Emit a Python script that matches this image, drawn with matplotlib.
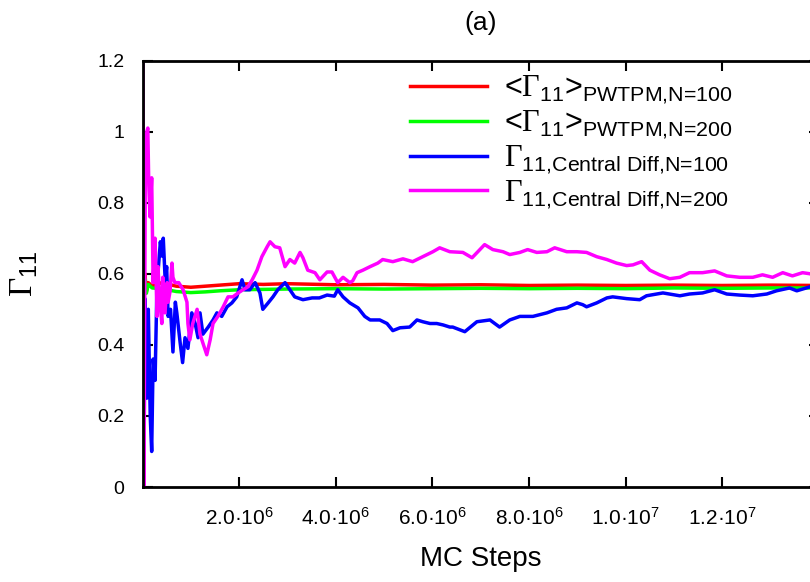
import numpy as np
import matplotlib
matplotlib.use("Agg")
from matplotlib import pyplot as plt

plt.rcParams['font.family'] = ['Liberation Sans', 'DejaVu Sans']
plt.rcParams['mathtext.fontset'] = 'custom'
plt.rcParams['mathtext.rm'] = 'Liberation Sans'
plt.rcParams['mathtext.sf'] = 'Liberation Sans'
plt.rcParams['mathtext.it'] = 'Liberation Sans:italic'
# serif Gamma as in the original (symbol font), taken from the "bf" slot
plt.rcParams['mathtext.bf'] = 'Liberation Serif'

# MC steps in units of 1e6
red_x = [0.02, 0.05, 0.08, 0.12, 0.2, 0.4, 0.7, 1.0, 1.3, 1.6, 2.0, 2.5, 3.0,
         4.0, 5.0, 6.0, 7.0, 8.0, 9.0, 10.0, 11.0, 12.0, 13.0, 14.0]
red_y = [0.54, 0.60, 0.55, 0.575, 0.565, 0.575, 0.565, 0.562, 0.565, 0.568, 0.572, 0.57, 0.572,
         0.569, 0.57, 0.568, 0.569, 0.567, 0.568, 0.567, 0.568, 0.567, 0.568, 0.567]

green_x = [0.02, 0.05, 0.08, 0.12, 0.2, 0.4, 0.7, 1.0, 1.3, 1.6, 2.0, 2.5, 3.0,
           4.0, 5.0, 6.0, 7.0, 8.0, 9.0, 10.0, 11.0, 12.0, 13.0, 14.0]
green_y = [0.56, 0.585, 0.545, 0.57, 0.56, 0.558, 0.55, 0.547, 0.549, 0.552, 0.555, 0.556, 0.557,
           0.558, 0.557, 0.558, 0.559, 0.558, 0.559, 0.558, 0.56, 0.559, 0.56, 0.56]

blue_x = [0.03, 0.05, 0.09, 0.12, 0.16, 0.19, 0.22, 0.26, 0.30, 0.33, 0.37, 0.40, 0.43, 0.47,
          0.50, 0.53, 0.58, 0.63, 0.68, 0.71, 0.78, 0.83, 0.88, 0.94, 1.02, 1.09, 1.15, 1.19,
          1.25, 1.36, 1.46, 1.54, 1.64, 1.75, 1.85, 1.95, 2.06, 2.12, 2.22, 2.33, 2.43, 2.49,
          2.60, 2.70, 2.80, 2.95, 3.05, 3.15, 3.32, 3.51, 3.66, 3.82, 3.97, 4.04, 4.15, 4.29,
          4.46, 4.60, 4.71, 4.85, 4.91, 5.06, 5.18, 5.33, 5.53, 5.68, 5.80, 5.95, 6.09, 6.22,
          6.36, 6.42, 6.67, 6.92, 7.19, 7.39, 7.60, 7.81, 8.08, 8.37, 8.57, 8.78, 8.99, 9.11,
          9.19, 9.40, 9.61, 9.73, 10.02, 10.29, 10.43, 10.77, 11.12, 11.32, 11.59, 11.84,
          12.09, 12.36, 12.63, 12.92, 13.12, 13.39, 13.54, 13.81, 14.0]
blue_y = [0.00, 0.53, 0.25, 0.50, 0.20, 0.10, 0.36, 0.30, 0.57, 0.62, 0.69, 0.65, 0.70, 0.58,
          0.62, 0.48, 0.50, 0.38, 0.52, 0.49, 0.405, 0.35, 0.42, 0.39, 0.49, 0.46, 0.42, 0.49,
          0.43, 0.45, 0.47, 0.49, 0.48, 0.507, 0.518, 0.535, 0.583, 0.555, 0.555, 0.575, 0.546, 0.50,
          0.518, 0.535, 0.555, 0.575, 0.555, 0.535, 0.527, 0.532, 0.532, 0.54, 0.537, 0.555, 0.535, 0.518,
          0.504, 0.48, 0.47, 0.47, 0.47, 0.46, 0.44, 0.448, 0.45, 0.47, 0.465, 0.46, 0.46, 0.456,
          0.45, 0.45, 0.437, 0.465, 0.47, 0.45, 0.47, 0.48, 0.48, 0.49, 0.50, 0.504, 0.518, 0.513,
          0.507, 0.518, 0.532, 0.535, 0.53, 0.527, 0.538, 0.546, 0.538, 0.543, 0.546, 0.555,
          0.543, 0.54, 0.538, 0.543, 0.552, 0.56, 0.552, 0.563, 0.565]

magenta_x = [0.01, 0.03, 0.06, 0.09, 0.11, 0.13, 0.155, 0.19, 0.22, 0.26, 0.30, 0.32, 0.36, 0.40,
             0.42, 0.465, 0.51, 0.53, 0.57, 0.61, 0.63, 0.67, 0.75, 0.84, 0.92, 0.94, 0.98, 1.04,
             1.13, 1.19, 1.25, 1.33, 1.40, 1.46, 1.56, 1.67, 1.77, 1.87, 1.98, 2.08, 2.18, 2.27,
             2.37, 2.47, 2.58, 2.64, 2.74, 2.84, 2.95, 3.05, 3.15, 3.26, 3.32, 3.42, 3.57, 3.67,
             3.82, 3.92, 4.04, 4.15, 4.29, 4.35, 4.44, 4.56, 4.71, 4.87, 4.97, 5.18, 5.39, 5.59,
             5.80, 6.01, 6.15, 6.36, 6.63, 6.82, 6.94, 7.08, 7.25, 7.46, 7.60, 7.81, 7.97, 8.16,
             8.37, 8.53, 8.78, 8.99, 9.19, 9.40, 9.61, 9.81, 10.02, 10.15, 10.33, 10.50, 10.70,
             10.91, 11.12, 11.32, 11.59, 11.84, 12.09, 12.36, 12.63, 12.83, 13.04, 13.25, 13.45,
             13.66, 13.81, 14.0]
magenta_y = [1.25, 0.00, 0.95, 1.00, 1.01, 0.85, 0.76, 0.87, 0.575, 0.70, 0.48, 0.62, 0.52, 0.46,
             0.59, 0.49, 0.575, 0.52, 0.55, 0.63, 0.59, 0.575, 0.575, 0.555, 0.52, 0.46, 0.414, 0.46,
             0.50, 0.43, 0.405, 0.372, 0.414, 0.46, 0.48, 0.507, 0.535, 0.535, 0.546, 0.555, 0.563, 0.583,
             0.61, 0.648, 0.676, 0.69, 0.676, 0.673, 0.62, 0.64, 0.63, 0.66, 0.645, 0.61, 0.603, 0.583,
             0.605, 0.605, 0.575, 0.59, 0.575, 0.58, 0.603, 0.61, 0.62, 0.63, 0.64, 0.634, 0.642, 0.634,
             0.648, 0.662, 0.673, 0.662, 0.66, 0.645, 0.662, 0.682, 0.668, 0.662, 0.654, 0.66, 0.668, 0.66,
             0.662, 0.673, 0.662, 0.662, 0.66, 0.648, 0.64, 0.63, 0.623, 0.625, 0.634, 0.61, 0.597,
             0.586, 0.59, 0.603, 0.603, 0.608, 0.594, 0.59, 0.59, 0.597, 0.59, 0.603, 0.594,
             0.603, 0.60, 0.598]

series = [
    (red_x, red_y, '#ff0000', r'$\text{<}\mathbf{\Gamma}_{\text{11}}\text{>}_{\text{PWTPM,N=100}}$'),
    (green_x, green_y, '#00ff00', r'$\text{<}\mathbf{\Gamma}_{\text{11}}\text{>}_{\text{PWTPM,N=200}}$'),
    (blue_x, blue_y, '#0000ff', r'$\mathbf{\Gamma}_{\text{11,Central Diff,N=100}}$'),
    (magenta_x, magenta_y, '#ff00ff', r'$\mathbf{\Gamma}_{\text{11,Central Diff,N=200}}$'),
]

xticks = [2e6, 4e6, 6e6, 8e6, 1e7, 1.2e7]
xtick_labels = [r'$2.0·10^{6}$', r'$4.0·10^{6}$', r'$6.0·10^{6}$',
                r'$8.0·10^{6}$', r'$1.0·10^{7}$', r'$1.2·10^{7}$']
yticks = [0, 0.2, 0.4, 0.6, 0.8, 1.0, 1.2]
ytick_labels = ['0', '0.2', '0.4', '0.6', '0.8', '1', '1.2']

fig = plt.figure(figsize=(8.1, 5.82), dpi=100)
ax = fig.add_axes([142.5 / 810, 95 / 582, 676.5 / 810, 426.5 / 582])

for xs, ys, color, label in series:
    ax.plot(np.array(xs) * 1e6, ys, color=color, lw=2.5, label=label)

ax.set_xlim(0, 1.4e7)
ax.set_ylim(0, 1.2)
ax.set_xticks(xticks)
ax.set_xticklabels(xtick_labels, fontsize=15)
ax.set_yticks(yticks)
ax.set_yticklabels(ytick_labels, fontsize=14)
ax.tick_params(direction='in', length=7, width=1.5, top=True, right=True)
ax.tick_params(axis='x', pad=14)
ax.tick_params(axis='y', pad=13)
for sp in ax.spines.values():
    sp.set_linewidth(2)

ax.set_xlabel('MC Steps', fontsize=20, labelpad=13)
ax.set_ylabel(r'$\mathbf{\Gamma}_{\text{11}}$', fontsize=24, rotation=90)
ax.yaxis.set_label_coords(-0.152, 0.5)
ax.set_title('(a)', fontsize=19, pad=22)

ax.legend(loc='upper left', bbox_to_anchor=(0.36, 1.026), frameon=False, fontsize=22,
          handlelength=2.5, handletextpad=0.55, labelspacing=0.07, borderpad=0.3)

fig.savefig('out.png', dpi=100)
